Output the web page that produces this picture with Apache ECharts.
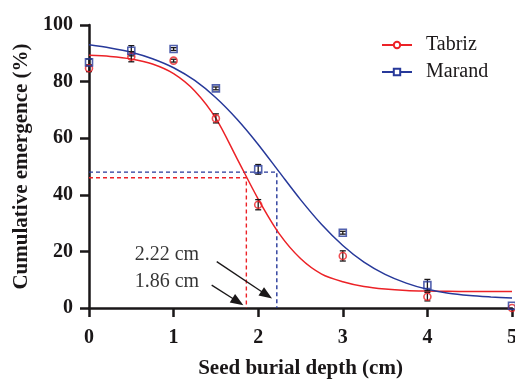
<!DOCTYPE html>
<html>
<head>
<meta charset="utf-8">
<script src="https://cdn.jsdelivr.net/npm/echarts@6/dist/echarts.min.js"></script>
<style>
  html, body { margin: 0; padding: 0; background: #fff; }
  #chart { width: 515px; height: 380px; }
</style>
</head>
<body>
<div id="chart"></div>
<script>
// Observed emergence (mean ± SE) at each burial depth
const depths = [0, 0.5, 1, 1.5, 2, 3, 4, 5];
const tabrizMean = [84.7, 88.8, 87.4, 67.0, 36.5, 18.4, 4.0, 0];
const tabrizSE   = [1.2, 1.8, 0.5, 1.6, 1.8, 1.8, 1.5, 0];
const marandMean = [86.8, 90.9, 91.5, 77.6, 49.0, 26.6, 8.1, 0.8];
const marandSE   = [1.2, 1.8, 0.5, 0.5, 1.7, 0.5, 2.0, 0];

// Fitted sigmoid curves, sampled every 0.25 cm
const curveDepth = [0, 0.25, 0.5, 0.75, 1, 1.25, 1.5, 1.75, 2, 2.25, 2.5, 2.75, 3, 3.25, 3.5, 3.75, 4, 4.25, 4.5, 4.75, 5];
const tabrizFit = [89.3, 88.9, 88.0, 86.2, 82.8, 76.7, 67.0, 52.8, 38.5, 26.2, 17.5, 12.0, 9.3, 7.6, 6.7, 6.2, 6.0, 5.9, 5.85, 5.8, 5.8];
const marandFit = [93.0, 91.9, 90.4, 88.1, 84.9, 80.4, 74.3, 66.7, 57.8, 48.0, 38.3, 29.5, 22.1, 16.2, 11.9, 8.8, 6.6, 5.2, 4.4, 3.9, 3.5];

// Depth giving 50% of maximum emergence, with the emergence level there
const tabrizD50 = 1.86, tabrizD50Level = 46;
const marandD50 = 2.22, marandD50Level = 48;

// Annotation labels and arrows (data coordinates)
const noteLabels = [[0.54, 18.7, '2.22 cm'], [0.54, 9.3, '1.86 cm']];
const noteArrows = [[[1.51, 16.4], [2.10, 4.6]], [[1.45, 8.1], [1.76, 2.2]]];

const xTicks = [0, 1, 2, 3, 4, 5];
const yTicks = [0, 20, 40, 60, 80, 100];

const RED = '#ec2227';
const BLUE = '#27399a';
const INK = '#1a1718';
const FONT = '"Liberation Serif", "Times New Roman", serif';

const zip = (xs, ys) => xs.map((x, i) => [x, ys[i]]);
const zip3 = (xs, ys, es) => xs.map((x, i) => [x, ys[i], es[i]]);

function errorBar(params, api) {
  const x = api.value(0), y = api.value(1), e = api.value(2);
  if (!e) return null;
  const top = api.coord([x, y + e]);
  const bot = api.coord([x, y - e]);
  const hw = 3;
  const style = { stroke: INK, lineWidth: 1.3 };
  return {
    type: 'group',
    children: [
      { type: 'line', shape: { x1: top[0], y1: top[1], x2: bot[0], y2: bot[1] }, style },
      { type: 'line', shape: { x1: top[0] - hw, y1: top[1], x2: top[0] + hw, y2: top[1] }, style },
      { type: 'line', shape: { x1: bot[0] - hw, y1: bot[1], x2: bot[0] + hw, y2: bot[1] }, style }
    ]
  };
}

function guide(d50, level) {
  return [[xTicks[0], level], [d50, level], [d50, yTicks[0]]];
}

const chart = echarts.init(document.getElementById('chart'), null, { renderer: 'canvas' });

chart.setOption({
  animation: false,
  backgroundColor: '#fff',
  textStyle: { fontFamily: FONT },
  grid: { left: 89, right: 3, top: 25, bottom: 72, containLabel: false, outerBoundsMode: 'none' },
  legend: {
    data: ['Tabriz', 'Marand'],
    left: 381,
    top: 35,
    padding: 0,
    orient: 'vertical',
    itemWidth: 30,
    itemHeight: 8,
    itemGap: 7,
    textStyle: { fontFamily: FONT, fontSize: 20, color: INK, lineHeight: 20, padding: [0, 0, 0, 9] }
  },
  xAxis: {
    type: 'value',
    min: 0, max: 5, interval: 1,
    name: 'Seed burial depth (cm)',
    nameLocation: 'middle',
    nameGap: 50,
    nameTextStyle: { fontFamily: FONT, fontSize: 21, fontWeight: 'bold', color: INK },
    axisLine: { lineStyle: { color: INK, width: 2.5 } },
    axisTick: { show: true, length: 9, lineStyle: { color: INK, width: 2.5 } },
    axisLabel: { margin: 20, fontFamily: FONT, fontSize: 20, fontWeight: 'bold', color: INK },
    splitLine: { show: false }
  },
  yAxis: {
    type: 'value',
    min: 0, max: 100, interval: 20,
    name: 'Cumulative emergence (%)',
    nameLocation: 'middle',
    nameGap: 55,
    nameTextStyle: { fontFamily: FONT, fontSize: 21, fontWeight: 'bold', color: INK },
    axisLine: { show: true, lineStyle: { color: INK, width: 2.5 } },
    axisTick: { show: true, length: 9, lineStyle: { color: INK, width: 2.5 } },
    axisLabel: { margin: 16, fontFamily: FONT, fontSize: 20, fontWeight: 'bold', color: INK },
    splitLine: { show: false }
  },
  series: [
    // 50% guide lines
    {
      type: 'line', name: 'guideTabriz', data: guide(tabrizD50, tabrizD50Level),
      showSymbol: false, silent: true, z: 1,
      lineStyle: { color: RED, width: 1.4, type: [4, 3] }
    },
    {
      type: 'line', name: 'guideMarand', data: guide(marandD50, marandD50Level),
      showSymbol: false, silent: true, z: 1,
      lineStyle: { color: BLUE, width: 1.4, type: [4, 3] }
    },
    // fitted curves
    {
      type: 'line', name: 'Tabriz', data: zip(curveDepth, tabrizFit),
      smooth: 0.3, showSymbol: false, z: 2,
      symbol: 'circle', symbolSize: 7,
      itemStyle: { color: '#fff', borderColor: RED, borderWidth: 1.5 },
      lineStyle: { color: RED, width: 1.5 }
    },
    {
      type: 'line', name: 'Marand', data: zip(curveDepth, marandFit),
      smooth: 0.3, showSymbol: false, z: 2,
      symbol: 'rect', symbolSize: 7,
      itemStyle: { color: '#fff', borderColor: BLUE, borderWidth: 1.5 },
      lineStyle: { color: BLUE, width: 1.5 }
    },
    // error bars
    {
      type: 'custom', name: 'seTabriz', renderItem: errorBar, silent: true, z: 3,
      data: zip3(depths, tabrizMean, tabrizSE), encode: { x: 0, y: 1 }
    },
    {
      type: 'custom', name: 'seMarand', renderItem: errorBar, silent: true, z: 3,
      data: zip3(depths, marandMean, marandSE), encode: { x: 0, y: 1 }
    },
    // observed means
    {
      type: 'scatter', name: 'obsTabriz', data: zip(depths, tabrizMean),
      symbol: 'circle', symbolSize: 7, z: 4,
      itemStyle: { color: 'rgba(255,255,255,0)', borderColor: RED, borderWidth: 1.6 }
    },
    {
      type: 'scatter', name: 'obsMarand', data: zip(depths, marandMean),
      symbol: 'rect', symbolSize: 7, z: 4,
      itemStyle: { color: 'rgba(255,255,255,0)', borderColor: BLUE, borderWidth: 1.6 }
    },
    // D50 annotations with arrows
    {
      type: 'scatter', name: 'notes', data: noteLabels, symbolSize: 0, silent: true, z: 5,
      label: {
        show: true, position: 'right', distance: 0,
        formatter: p => p.value[2],
        fontFamily: FONT, fontSize: 20, color: '#000'
      },
      markLine: {
        silent: true,
        symbol: ['none', 'triangle'],
        symbolSize: [10, 13],
        label: { show: false },
        lineStyle: { color: INK, width: 1.3, type: 'solid' },
        data: noteArrows.map(a => [{ coord: a[0] }, { coord: a[1] }])
      }
    }
  ]
});
</script>
</body>
</html>
